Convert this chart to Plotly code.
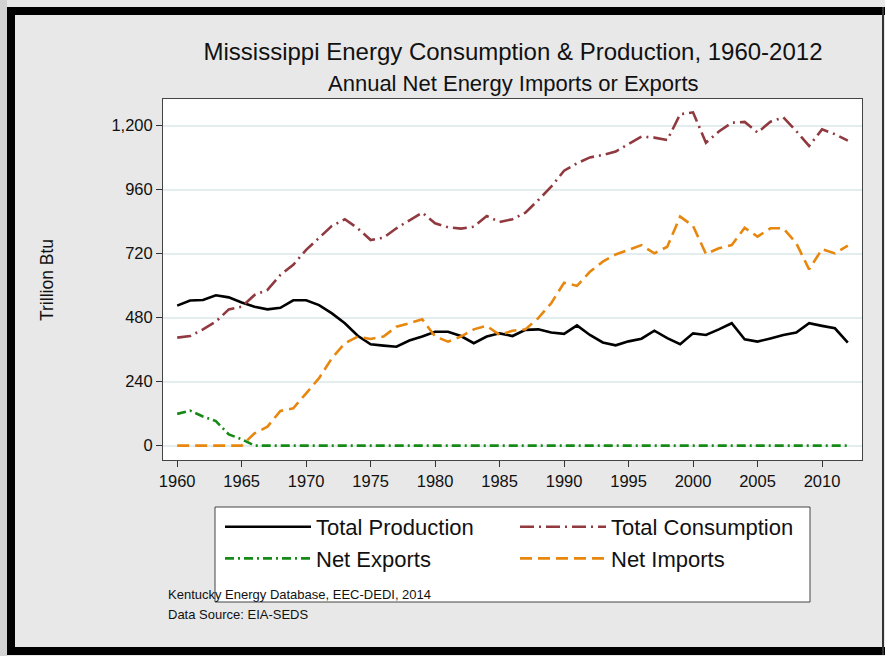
import plotly.graph_objects as go

years = list(range(1960, 2013))

total_production = [525, 544, 546, 564, 556, 537, 521, 511, 517, 545,
                    545, 527, 496, 459, 412, 380, 375, 371, 394, 409,
                    427, 427, 411, 384, 409, 421, 411, 434, 436, 424,
                    419, 451, 415, 387, 376, 391, 401, 431, 403, 380,
                    421, 415, 436, 459, 399, 390, 402, 415, 424, 459,
                    449, 440, 386]

total_consumption = [405, 411, 436, 465, 511, 521, 565, 584, 640, 678,
                     734, 778, 824, 849, 815, 771, 780, 815, 846, 874,
                     834, 819, 814, 821, 861, 839, 849, 874, 921, 971,
                     1031, 1059, 1081, 1090, 1103, 1130, 1159, 1155, 1146, 1243,
                     1250, 1136, 1178, 1211, 1214, 1174, 1215, 1231, 1180, 1124,
                     1186, 1168, 1144]

net_exports = [119, 131, 109, 92, 42, 24] + [0] * 47

net_imports = [0, 0, 0, 0, 0, 0, 46, 71, 130, 140,
               196, 253, 328, 384, 409, 400, 409, 446, 459, 474,
               409, 390, 409, 436, 449, 415, 431, 436, 478, 534,
               611, 599, 652, 690, 717, 734, 752, 721, 746, 859,
               824, 719, 740, 752, 817, 784, 815, 815, 759, 661,
               737, 721, 750]

y_ticks = [0, 240, 480, 720, 960, 1200]
y_tick_labels = ["0", "240", "480", "720", "960", "1,200"]
x_ticks = list(range(1960, 2011, 5))

W, H = 885, 656
L, R, T, B = 163, 862, 99, 460


def px(xp):
    return (xp - L) / (R - L)


def py(yp):
    return (B - yp) / (B - T)


FONT = "Liberation Sans, Arial, sans-serif"

fig = go.Figure()
fig.add_trace(go.Scatter(x=years, y=total_production, mode="lines", name="Total Production",
                         line=dict(color="#000000", width=2.6)))
fig.add_trace(go.Scatter(x=years, y=total_consumption, mode="lines", name="Total Consumption",
                         line=dict(color="#903a40", width=2.6, dash="14px,5px,2px,5px")))
fig.add_trace(go.Scatter(x=years, y=net_exports, mode="lines", name="Net Exports",
                         line=dict(color="#168a16", width=2.6, dash="9px,4px,2px,4px")))
fig.add_trace(go.Scatter(x=years, y=net_imports, mode="lines", name="Net Imports",
                         line=dict(color="#e8870e", width=2.6, dash="12px,6px")))

shapes = [
    dict(type="rect", xref="paper", yref="paper", x0=px(0), x1=px(7), y0=py(0), y1=py(656),
         fillcolor="#d2d2d2", line=dict(width=0), layer="below"),
    dict(type="rect", xref="paper", yref="paper", x0=px(7), x1=px(15), y0=py(7), y1=py(655),
         fillcolor="#000000", line=dict(width=0)),
    dict(type="rect", xref="paper", yref="paper", x0=px(7), x1=px(885), y0=py(7), y1=py(15),
         fillcolor="#000000", line=dict(width=0)),
    dict(type="rect", xref="paper", yref="paper", x0=px(7), x1=px(885), y0=py(647), y1=py(655),
         fillcolor="#000000", line=dict(width=0)),
    dict(type="rect", xref="paper", yref="paper", x0=px(882), x1=px(884), y0=py(7), y1=py(655),
         fillcolor="#333333", line=dict(width=0)),
    # legend box
    dict(type="rect", xref="paper", yref="paper", x0=px(215), x1=px(810), y0=py(507), y1=py(602),
         fillcolor="#ffffff", line=dict(color="#444444", width=1), layer="below"),
]

annotations = [
    dict(text="Annual Net Energy Imports or Exports", xref="paper", yref="paper",
         x=px(513), y=py(83), xanchor="center", yanchor="middle", showarrow=False,
         font=dict(family=FONT, size=22, color="#111111")),
    dict(text="Trillion Btu", xref="paper", yref="paper", x=px(47), y=py(280),
         xanchor="center", yanchor="middle", textangle=-90, showarrow=False,
         font=dict(family=FONT, size=17.5, color="#111111")),
    dict(text="Kentucky Energy Database, EEC-DEDI, 2014", xref="paper", yref="paper",
         x=px(166), y=py(594), xanchor="left", yanchor="middle", showarrow=False,
         font=dict(family=FONT, size=13, color="#111111")),
    dict(text="Data Source: EIA-SEDS", xref="paper", yref="paper",
         x=px(166), y=py(614), xanchor="left", yanchor="middle", showarrow=False,
         font=dict(family=FONT, size=13, color="#111111")),
]

fig.update_layout(
    width=W, height=H,
    margin=dict(l=L, r=W - R, t=T, b=H - B, pad=0),
    paper_bgcolor="#e8e8e8",
    plot_bgcolor="#ffffff",
    title=dict(text="Mississippi Energy Consumption & Production, 1960-2012",
               xref="paper", x=px(513), xanchor="center",
               yref="container", y=1 - 52 / H, yanchor="middle",
               font=dict(family=FONT, size=24, color="#111111")),
    shapes=shapes,
    annotations=annotations,
    showlegend=True,
    legend=dict(orientation="h", x=px(220), y=py(506), xanchor="left", yanchor="top",
                bgcolor="rgba(0,0,0,0)", borderwidth=0,
                font=dict(family=FONT, size=22, color="#111111"),
                entrywidth=194, entrywidthmode="pixels", itemwidth=86,
                tracegroupgap=0),
    xaxis=dict(range=[1958.9, 2013.1], tickmode="array", tickvals=x_ticks,
               ticks="outside", ticklen=6, tickcolor="#333333", tickwidth=1,
               showgrid=False, zeroline=False, showline=True, linecolor="#444444",
               linewidth=1, mirror=True,
               tickfont=dict(family=FONT, size=16.5, color="#111111")),
    yaxis=dict(range=[-54, 1300], tickmode="array", tickvals=y_ticks, ticktext=y_tick_labels,
               ticks="outside", ticklen=6, tickcolor="#333333", tickwidth=1,
               showgrid=True, gridcolor="#e3eded", gridwidth=1.5,
               zeroline=False, showline=True, linecolor="#444444", linewidth=1, mirror=True,
               tickfont=dict(family=FONT, size=16.5, color="#111111")),
)

fig.write_html("out.html", config={"displayModeBar": False},
               post_script="document.body.style.margin='0';")
